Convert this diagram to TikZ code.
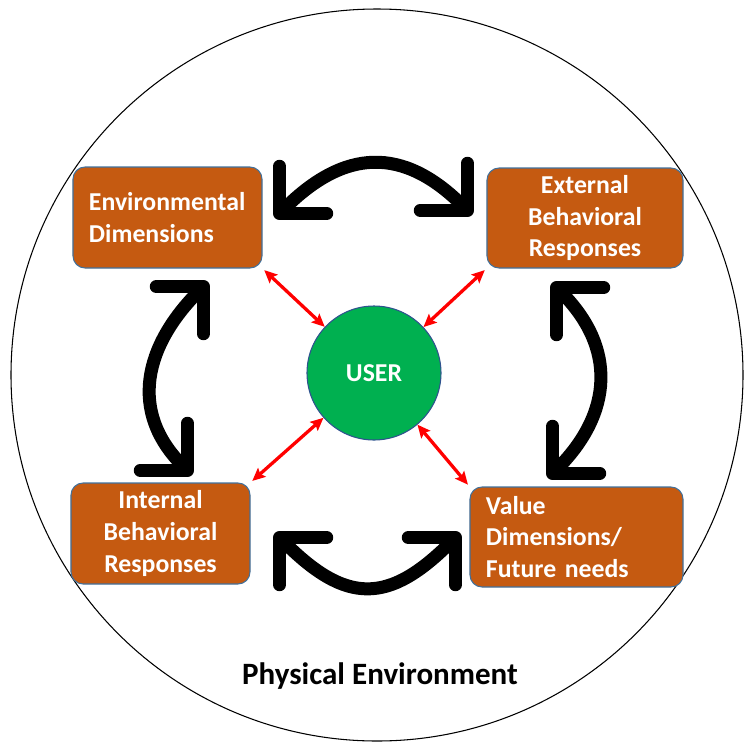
\documentclass[tikz,border=0pt]{standalone}
\usepackage{fontspec}
\setmainfont{Carlito}
\usetikzlibrary{arrows.meta,positioning}
\definecolor{boxfill}{HTML}{C55A11}
\definecolor{boxline}{HTML}{41719C}
\definecolor{userfill}{HTML}{00B050}
\definecolor{userline}{HTML}{2F528F}

\begin{document}
\begin{tikzpicture}[x=0.03cm,y=-0.03cm,
    every node/.style={font=\fontsize{22}{27}\selectfont\bfseries},
    factor/.style={draw=boxline,line width=0.9pt,fill=boxfill,rounded corners=0.36cm,text=white,minimum height=3.0cm,inner xsep=0.48cm,inner ysep=0pt},
    user/.style={circle,draw=userline,line width=0.9pt,fill=userfill,text=white,minimum size=4.02cm},
    link/.style={red,line width=2.8pt,shorten <=2pt,{Stealth[length=11pt,width=10pt,inset=2pt]}-{Stealth[length=11pt,width=10pt,inset=2pt]}},
    swing/.style={black,line width=0.39cm,{Straight Barb[length=1cm,width=2cm,round]}-{Straight Barb[length=1cm,width=2cm,round]}}]
        \useasboundingbox (0,0) rectangle (744,744);
        \draw[line width=0.9pt] (377,375) circle[radius=366];

        \node[user] (user) at (374,373) {USER};
        \node[factor,text width=4.71cm,align=left,minimum height=3.03cm] (env) at (167.5,217.5) {Environmental\\Dimensions};
        \node[factor,minimum width=5.88cm,align=center] (ext) at (585,218) {External\\Behavioral\\Responses};
        \node[factor,minimum width=5.37cm,align=center,minimum height=3.03cm] (int) at (160.5,533.5) {Internal\\Behavioral\\Responses};
        \node[factor,text width=5.43cm,align=left] (val) at (576.5,537) {Value\\Dimensions/\\Future needs};
        \node (phys) at (380,676) [font=\fontsize{26.5}{32}\selectfont\bfseries] {Physical Environment};

        % ends of the black swings
        \coordinate (topW) at (275,218);
        \coordinate (topE) at (472,215);
        \coordinate (leftN) at (208,282);
        \coordinate (leftS) at (192,475);
        \coordinate (rightN) at (552,283);
        \coordinate (rightS) at (548,478);
        \coordinate (botW) at (275,533);
        \coordinate (botE) at (460,533);

        \path[link]
        (env.south east) edge (user)
        (ext.south west) edge (user)
        (int.north east) edge (user)
        (val.north west) edge (user);

        \path[swing]
        (topW) edge[out=45,in=135,looseness=1.27] (topE)
        (leftN) edge[out=225,in=135,looseness=1.19] (leftS)
        (rightN) edge[out=-45,in=45,looseness=1.2] (rightS)
        (botW) edge[out=-45,in=-135,looseness=1.4] (botE);
\end{tikzpicture}
\end{document}
